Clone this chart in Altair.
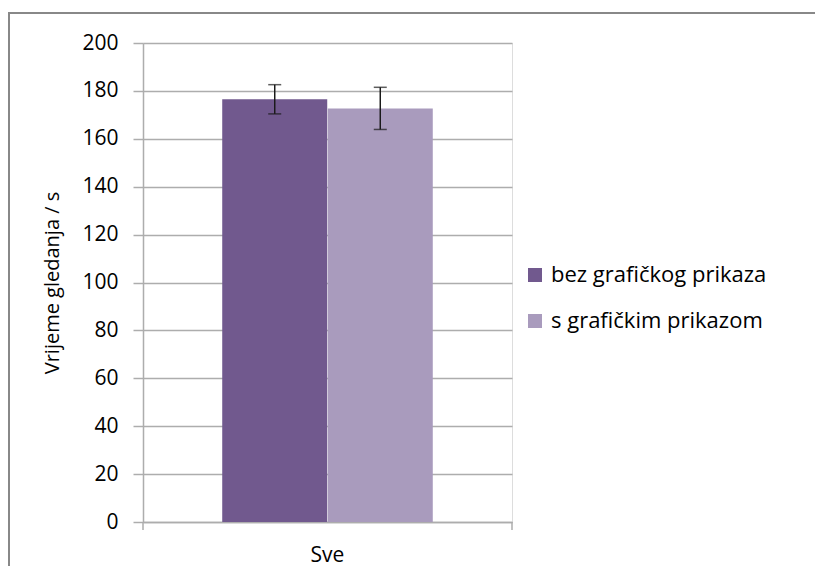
import altair as alt
import pandas as pd

categories = ["Sve"]
series = ["bez grafičkog prikaza", "s grafičkim prikazom"]
means = [176.5, 172.7]
errors = [6.1, 8.8]
colors = ["#71598E", "#A99BBD"]
y_ticks = [0, 20, 40, 60, 80, 100, 120, 140, 160, 180, 200]

FONT = "Open Sans"
TXT = "#000000"
GRID = "#adadad"

df = pd.DataFrame({
    "cat": [categories[0]] * len(series),
    "series": series,
    "mean": means,
    "lo": [m - e for m, e in zip(means, errors)],
    "hi": [m + e for m, e in zip(means, errors)],
})

W, H = 369, 479

x_enc = alt.X("cat:N", scale=alt.Scale(paddingInner=0, paddingOuter=0.374),
              axis=alt.Axis(title=None, ticks=False, labelAngle=0, labelFontSize=21,
                            labelFont=FONT, labelColor=TXT, labelPadding=22,
                            domainColor=GRID, domainWidth=1.5, grid=False))
xo_enc = alt.XOffset("series:N", scale=alt.Scale(domain=series, paddingInner=0, paddingOuter=0))

bars = alt.Chart(df).mark_bar(size=105).encode(
    x=x_enc,
    xOffset=xo_enc,
    y=alt.Y("mean:Q", scale=alt.Scale(domain=[0, 200], nice=False, zero=True),
            axis=alt.Axis(values=y_ticks, title="Vrijeme gledanja / s", titleFont=FONT,
                          titleFontSize=20, titleFontWeight="normal", titleColor=TXT,
                          titleX=-85, titleY=H / 2, titleAngle=270, titleAlign="center",
                          titleBaseline="alphabetic",
                          labelFont=FONT, labelFontSize=21, labelColor=TXT, labelPadding=15,
                          tickSize=10, tickColor=GRID, tickWidth=1.5,
                          domainColor=GRID, domainWidth=1.5,
                          grid=True, gridColor=GRID, gridWidth=1.5)),
    color=alt.Color("series:N", title=None,
                    scale=alt.Scale(domain=series, range=colors),
                    legend=alt.Legend(orient="none", legendX=381, legendY=221,
                                      symbolType="square", symbolSize=196, symbolStrokeWidth=0,
                                      labelFont=FONT, labelFontSize=22, labelColor=TXT,
                                      labelOffset=5, rowPadding=24, padding=0,
                                      labelLimit=400)),
)

err_rule = alt.Chart(df).mark_rule(color="#1a1a1a", strokeWidth=1.5).encode(
    x="cat:N", xOffset=xo_enc, y="lo:Q", y2="hi:Q")
err_lo = alt.Chart(df).mark_tick(color="#1a1a1a", size=13, thickness=1.5).encode(
    x="cat:N", xOffset=xo_enc, y="lo:Q")
err_hi = alt.Chart(df).mark_tick(color="#1a1a1a", size=13, thickness=1.5).encode(
    x="cat:N", xOffset=xo_enc, y="hi:Q")

edge = pd.DataFrame({"k": [0]})
end_ticks = alt.Chart(edge).mark_rule(color=GRID, strokeWidth=1.5).encode(
    x=alt.value(0), y=alt.value(H), y2=alt.value(H + 8))
end_ticks2 = alt.Chart(edge).mark_rule(color=GRID, strokeWidth=1.5).encode(
    x=alt.value(W), y=alt.value(H), y2=alt.value(H + 8))
frame_top = alt.Chart(edge).mark_rect(color="#888888", strokeWidth=0).encode(
    x=alt.value(-135), x2=alt.value(672), y=alt.value(-31), y2=alt.value(-29))
frame_left = alt.Chart(edge).mark_rect(color="#888888", strokeWidth=0).encode(
    x=alt.value(-135), x2=alt.value(-133), y=alt.value(-31), y2=alt.value(700))

chart = alt.layer(frame_top, frame_left, bars, err_rule, err_lo, err_hi,
                  end_ticks, end_ticks2).properties(
    width=W, height=H,
    padding={"left": 135, "top": 35, "right": 304, "bottom": 44},
    autosize=alt.AutoSizeParams(type="none"),
).configure_view(stroke=None).configure(background="white")

chart.save("out.html", embed_options={"renderer": "svg", "actions": False})
